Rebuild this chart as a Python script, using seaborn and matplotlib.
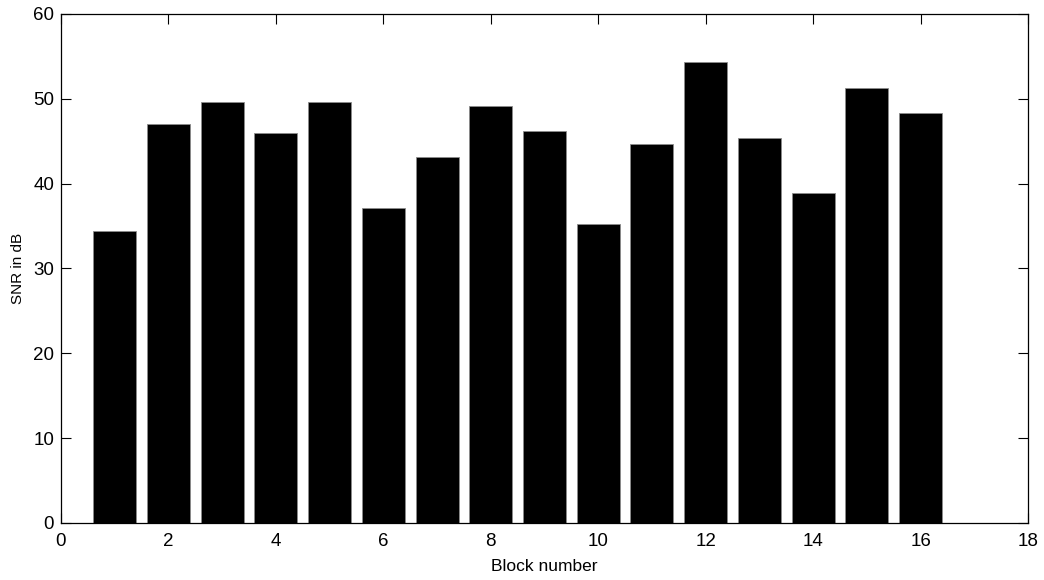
import numpy as np
import pandas as pd
import matplotlib
matplotlib.use('Agg')
import matplotlib.pyplot as plt
import seaborn as sns

blocks = list(range(1, 17))
snr_db = [34.4, 47.0, 49.6, 46.0, 49.6, 37.1, 43.2, 49.2, 46.2, 35.3, 44.7, 54.3, 45.4, 38.9, 51.3, 48.3]
x_ticks = list(range(0, 19, 2))
y_ticks = list(range(0, 61, 10))

df = pd.DataFrame({'block': blocks, 'snr': snr_db})

sns.set_style('ticks')
plt.rcParams['font.family'] = ['Liberation Sans', 'DejaVu Sans']

fig = plt.figure(figsize=(10.44, 5.8), dpi=100)
ax = fig.add_axes([0.0584, 0.0983, 0.9263, 0.8776])

sns.barplot(data=df, x='block', y='snr', native_scale=True, width=0.8,
            color='black', edgecolor='0.55', linewidth=0.6, saturation=1, ax=ax)

ax.set_xlim(0, 18)
ax.set_ylim(0, 60)
ax.set_xticks(x_ticks)
ax.set_yticks(y_ticks)
ax.set_xticklabels([str(t) for t in x_ticks], fontsize=13.5, color='black')
ax.set_yticklabels([str(t) for t in y_ticks], fontsize=13.5, color='black')
ax.tick_params(axis='x', direction='in', length=7, width=0.8, top=True, pad=7, colors='black')
ax.tick_params(axis='y', direction='in', length=7, width=0.8, right=True, pad=5, colors='black')
for s in ax.spines.values():
    s.set_visible(True)
    s.set_linewidth(0.9)
    s.set_color('black')

ax.set_xlabel('Block number', fontsize=12.5, labelpad=7, color='black')
ax.set_ylabel('SNR in dB', fontsize=11, labelpad=6, color='black')

fig.savefig('out.png', dpi=100)
